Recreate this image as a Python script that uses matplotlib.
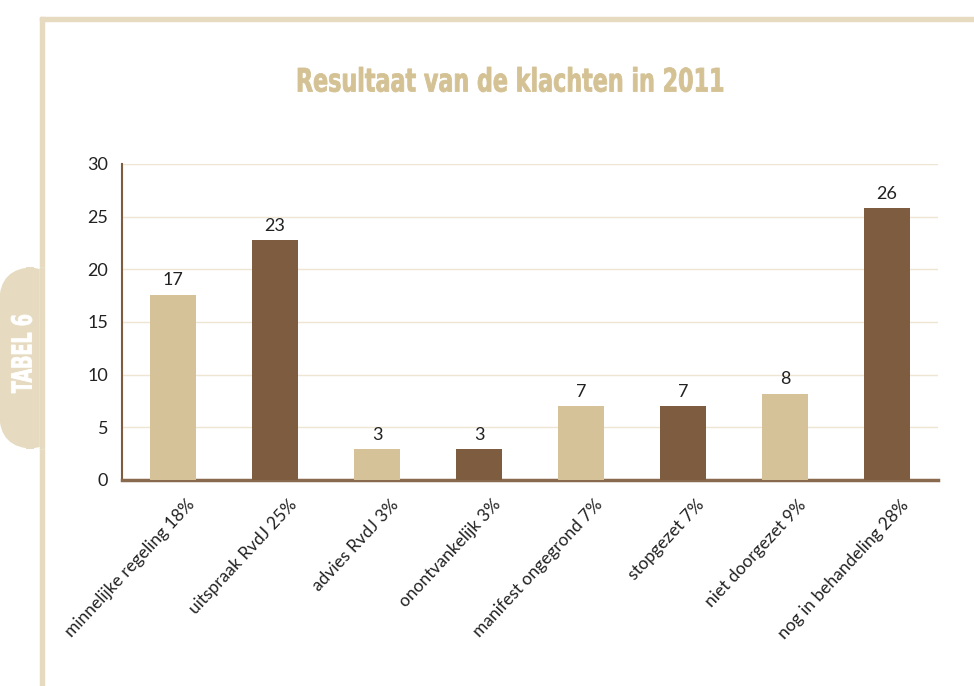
import numpy as np
import matplotlib.pyplot as plt
from matplotlib.patches import FancyBboxPatch, Rectangle, PathPatch
from matplotlib.textpath import TextPath
from matplotlib.font_manager import FontProperties
from matplotlib.transforms import Affine2D, ScaledTranslation

categories = ['minnelijke regeling 18%', 'uitspraak RvdJ 25%', 'advies RvdJ 3%',
              'onontvankelijk 3%', 'manifest ongegrond 7%', 'stopgezet 7%',
              'niet doorgezet 9%', 'nog in behandeling 28%']
values = [17.6, 22.8, 2.9, 2.9, 7.0, 7.0, 8.2, 25.8]
value_labels = ['17', '23', '3', '3', '7', '7', '8', '26']

light = '#D6C298'
dark = '#7D5C3F'
frame = '#E6DBC0'
txt = '#222222'

W, H = 974, 686
fig = plt.figure(figsize=(W / 100, H / 100), dpi=100)
px = Affine2D().scale(1 / W, 1 / H) + fig.transFigure   # pixel coords, origin bottom-left


def squeezed_text(s, x0, y0, width, height, color, rotate=False):
    # condensed bold text drawn as a path, sized in pixels (top-left origin)
    tp = TextPath((0, 0), s, prop=FontProperties(family='DejaVu Sans', weight='bold'), size=1)
    ext = tp.get_extents()
    t = Affine2D().translate(-ext.x0, -ext.y0)
    if rotate:
        t = t.scale(height / ext.width, width / ext.height).rotate_deg(90)
        t = t.translate(x0 + width, H - y0 - height)
    else:
        t = t.scale(width / ext.width, height / ext.height).translate(x0, H - y0 - height)
    fig.patches.append(PathPatch(tp, transform=t + px, facecolor=color, edgecolor=color, lw=0.6))


# frame lines and side tab
fig.patches.append(Rectangle((40, 0), 4, H - 17, transform=px, color=frame, zorder=0))
fig.patches.append(Rectangle((40, H - 21), W, 4, transform=px, color=frame, zorder=0))
fig.patches.append(FancyBboxPatch((0, H - 448), 60, 180, boxstyle='round,pad=0,rounding_size=34',
                                  transform=px, color=frame, zorder=0))
fig.patches.append(Rectangle((40, H - 448), 30, 180, transform=px, color='white', zorder=0.5))
fig.patches.append(Rectangle((40, H - 448), 4, 180, transform=px, color=frame, zorder=0.6))
squeezed_text('TABEL 6', 11, 315, 21, 78, 'white', rotate=True)

squeezed_text('Resultaat van de klachten in 2011', 298, 67, 425, 25, '#D4C194')

ax = fig.add_axes([122 / W, 1 - 480 / H, 816 / W, 316 / H])
x = np.arange(len(categories))
colors = [light if i % 2 == 0 else dark for i in range(len(categories))]
ax.bar(x, values, width=0.45, color=colors, zorder=3)
for xi, v, lab in zip(x, values, value_labels):
    ax.text(xi, v + 0.6, lab, ha='center', va='bottom', fontsize=13, color=txt, family='Lato')

ax.set_xlim(-0.5, 7.5)
ax.set_ylim(0, 30)
ax.set_yticks(range(0, 31, 5))
ax.yaxis.grid(True, color='#EEE5D2', linewidth=1, zorder=0)
ax.tick_params(axis='y', length=0, labelsize=13, labelcolor=txt, pad=10)
ax.tick_params(axis='x', length=0, pad=12)
for lab in ax.get_yticklabels():
    lab.set_family('Lato')
ax.set_xticks(x)
ax.set_xticklabels(categories, rotation=47, ha='right', rotation_mode='anchor',
                   fontsize=12.5, color=txt, family='Lato')
shift = ScaledTranslation(13 / 100, 0, fig.dpi_scale_trans)
for lab in ax.get_xticklabels():
    lab.set_transform(lab.get_transform() + shift)
for s in ['top', 'right']:
    ax.spines[s].set_visible(False)
ax.spines['left'].set_color(dark)
ax.spines['left'].set_linewidth(1.5)
ax.spines['bottom'].set_color('#8A6A4E')
ax.spines['bottom'].set_linewidth(2.5)

fig.savefig('out.png', dpi=100)
